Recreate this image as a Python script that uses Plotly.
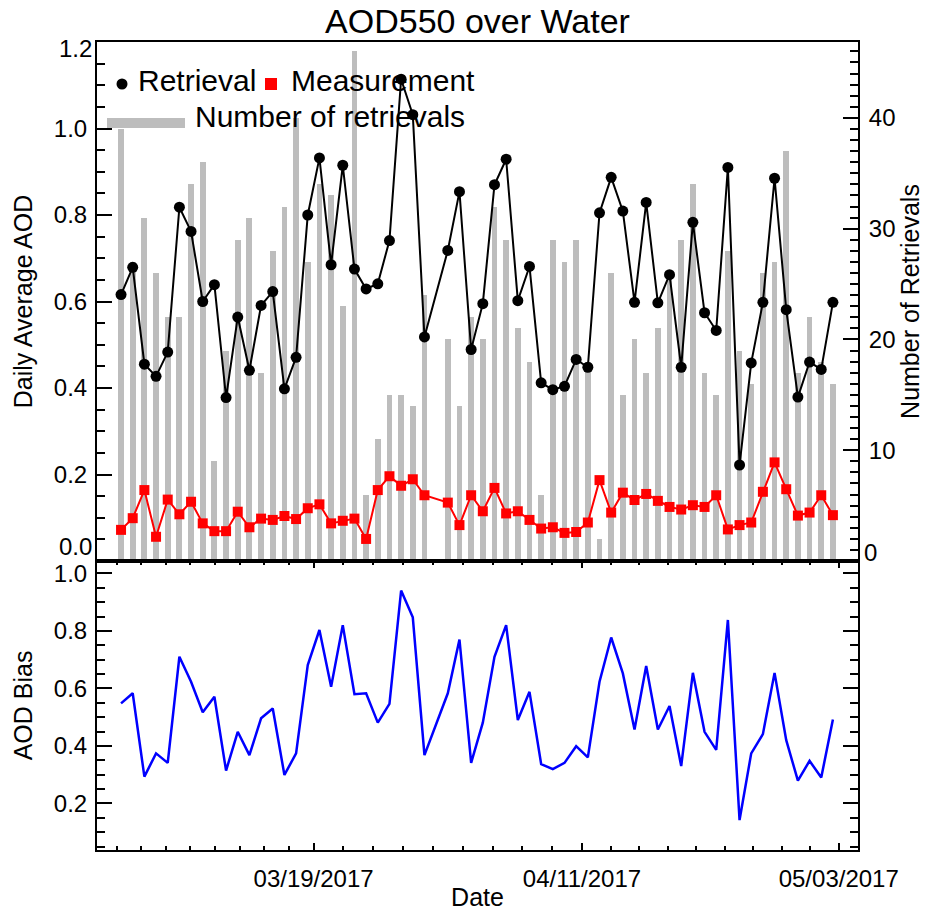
import pandas as pd
import plotly.graph_objects as go

# Daily values (2017-03-29 has no data)
dates = [
    "2017-03-02", "2017-03-03", "2017-03-04", "2017-03-05", "2017-03-06", "2017-03-07",
    "2017-03-08", "2017-03-09", "2017-03-10", "2017-03-11", "2017-03-12", "2017-03-13",
    "2017-03-14", "2017-03-15", "2017-03-16", "2017-03-17", "2017-03-18", "2017-03-19",
    "2017-03-20", "2017-03-21", "2017-03-22", "2017-03-23", "2017-03-24", "2017-03-25",
    "2017-03-26", "2017-03-27", "2017-03-28", "2017-03-30", "2017-03-31", "2017-04-01",
    "2017-04-02", "2017-04-03", "2017-04-04", "2017-04-05", "2017-04-06", "2017-04-07",
    "2017-04-08", "2017-04-09", "2017-04-10", "2017-04-11", "2017-04-12", "2017-04-13",
    "2017-04-14", "2017-04-15", "2017-04-16", "2017-04-17", "2017-04-18", "2017-04-19",
    "2017-04-20", "2017-04-21", "2017-04-22", "2017-04-23", "2017-04-24", "2017-04-25",
    "2017-04-26", "2017-04-27", "2017-04-28", "2017-04-29", "2017-04-30", "2017-05-01",
    "2017-05-02",
]

retrieval = [
    0.616, 0.679, 0.455, 0.427, 0.483, 0.818, 0.762, 0.600, 0.639, 0.378,
    0.564, 0.441, 0.591, 0.623, 0.398, 0.471, 0.800, 0.932, 0.685, 0.915,
    0.675, 0.629, 0.641, 0.741, 1.114, 1.032, 0.518, 0.718, 0.854, 0.489,
    0.595, 0.870, 0.929, 0.602, 0.681, 0.412, 0.396, 0.404, 0.466, 0.448,
    0.805, 0.887, 0.809, 0.598, 0.829, 0.597, 0.662, 0.448, 0.783, 0.574,
    0.533, 0.910, 0.222, 0.458, 0.598, 0.885, 0.581, 0.379, 0.460, 0.443,
    0.598,
]

measurement = [
    0.072, 0.099, 0.164, 0.056, 0.142, 0.108, 0.137, 0.087, 0.069, 0.069,
    0.114, 0.078, 0.098, 0.095, 0.104, 0.097, 0.122, 0.131, 0.087, 0.093,
    0.098, 0.051, 0.164, 0.196, 0.174, 0.189, 0.152, 0.135, 0.083, 0.152,
    0.115, 0.169, 0.110, 0.115, 0.095, 0.075, 0.078, 0.065, 0.067, 0.089,
    0.187, 0.112, 0.158, 0.141, 0.155, 0.139, 0.125, 0.119, 0.129, 0.125,
    0.152, 0.073, 0.083, 0.089, 0.160, 0.228, 0.166, 0.105, 0.112, 0.152,
    0.106,
]

n_retrievals = [
    39, 27, 31, 26, 22, 22, 34, 36, 9, 19,
    29, 31, 17, 28, 32, 40, 27, 34, 33, 23,
    46, 6, 11, 15, 15, 14, 24, 20, 14, 22,
    20, 32, 29, 21, 18, 6, 29, 27, 29, 18,
    2, 26, 15, 20, 17, 21, 26, 29, 34, 17,
    15, 28, 19, 16, 26, 27, 37, 17, 22, 18,
    16,
]

bias = [
    0.548, 0.583, 0.293, 0.374, 0.341, 0.710, 0.623, 0.517, 0.571, 0.314,
    0.449, 0.368, 0.496, 0.530, 0.299, 0.374, 0.681, 0.803, 0.606, 0.820,
    0.580, 0.583, 0.481, 0.546, 0.940, 0.847, 0.368, 0.583, 0.770, 0.341,
    0.481, 0.710, 0.820, 0.490, 0.588, 0.337, 0.319, 0.341, 0.399, 0.360,
    0.623, 0.777, 0.652, 0.457, 0.678, 0.457, 0.539, 0.330, 0.654, 0.449,
    0.386, 0.838, 0.142, 0.374, 0.441, 0.654, 0.420, 0.279, 0.348, 0.290,
    0.492,
]

date_ticks = ["2017-02-28", "2017-03-19", "2017-04-11", "2017-05-03"]
date_labels = ["02/28/2017", "03/19/2017", "04/11/2017", "05/03/2017"]

FONT = "Liberation Sans, Arial, Helvetica, sans-serif"
W, H = 926, 911
ML, MR, MT, MB = 97, 68, 42, 61
PW, PH = W - ML - MR, H - MT - MB
SPLIT = 289 / PH  # height share of the bias panel

# observations are stamped at midday
t = pd.to_datetime(dates) + pd.Timedelta(hours=12)
day = pd.Timedelta(days=1)
x_range = [str(t[0] - 2.06 * day), str(t[-1] + 2.15 * day)]

# minor ticks: 9 equal steps between labelled dates
majors = pd.to_datetime(date_ticks)
minor_ticks = []
for a, b in zip(majors[:-1], majors[1:]):
    for k in range(1, 9):
        minor_ticks.append(str(a + (b - a) * k / 9))

fig = go.Figure()

fig.add_trace(go.Bar(
    x=t, y=n_retrievals, width=0.5 * 86400000,
    marker=dict(color="#bdbdbd", line=dict(width=0)),
    xaxis="x", yaxis="y", name="Number of retrievals",
))
fig.add_trace(go.Scatter(
    x=t, y=retrieval, mode="lines+markers",
    line=dict(color="black", width=2),
    marker=dict(symbol="circle", size=11, color="black"),
    xaxis="x", yaxis="y2", name="Retrieval",
))
fig.add_trace(go.Scatter(
    x=t, y=measurement, mode="lines+markers",
    line=dict(color="#ff0000", width=2),
    marker=dict(symbol="square", size=10, color="#ff0000"),
    xaxis="x", yaxis="y2", name="Measurement",
))
fig.add_trace(go.Scatter(
    x=t, y=bias, mode="lines",
    line=dict(color="#0000ff", width=2.5),
    xaxis="x2", yaxis="y3", name="AOD Bias",
))

tick_font = dict(family=FONT, size=24, color="black")
title_font = dict(family=FONT, size=25, color="black")
axis_line = dict(showline=True, linecolor="black", linewidth=2,
                 showgrid=False, zeroline=False, automargin=False)

fig.update_layout(
    width=W, height=H,
    margin=dict(l=ML, r=MR, t=MT, b=MB, pad=0, autoexpand=False),
    paper_bgcolor="white", plot_bgcolor="white",
    showlegend=False, bargap=0,
    font=dict(family=FONT, color="black"),
    title=dict(text="AOD550 over Water", x=0.5, xref="paper",
               y=1 - 21 / H, yref="container", yanchor="middle",
               font=dict(family=FONT, size=34, color="black")),
    xaxis=dict(domain=[0, 1], anchor="y", type="date", range=x_range,
               showticklabels=False, ticks="", mirror=True, **axis_line),
    yaxis=dict(domain=[SPLIT, 1], anchor="x", side="right", range=[0, 46.85],
               tickmode="array", tickvals=[10, 20, 30, 40], ticktext=["10", "20", "30", "40"],
               ticks="inside", ticklen=15, tickwidth=2, tickcolor="black",
               minor=dict(tickmode="linear", tick0=0, dtick=1, ticks="inside",
                          ticklen=8, tickwidth=1.5, tickcolor="black"),
               tickfont=tick_font, ticklabelstandoff=4,
               title=dict(text="Number of Retrievals", font=title_font, standoff=6),
               **axis_line),
    yaxis2=dict(overlaying="y", anchor="x", side="left", range=[0, 1.2],
                tickmode="array", tickvals=[0.2, 0.4, 0.6, 0.8, 1.0],
                ticktext=["0.2", "0.4", "0.6", "0.8", "1.0"],
                ticks="inside", ticklen=15, tickwidth=2, tickcolor="black",
                minor=dict(tickmode="linear", tick0=0, dtick=0.05, ticks="inside",
                           ticklen=8, tickwidth=1.5, tickcolor="black"),
                tickfont=tick_font, ticklabelstandoff=3,
                title=dict(text="Daily Average AOD", font=title_font, standoff=14),
                **axis_line),
    xaxis2=dict(domain=[0, 1], anchor="y3", type="date", range=x_range,
                tickmode="array", tickvals=date_ticks, ticktext=date_labels,
                ticks="inside", ticklen=7, tickwidth=2, tickcolor="black",
                mirror="allticks",
                minor=dict(tickmode="array", tickvals=minor_ticks, ticks="inside",
                           ticklen=4, tickwidth=1.5, tickcolor="black"),
                tickfont=tick_font, ticklabelstandoff=6,
                title=dict(text="Date", font=title_font, standoff=6),
                **axis_line),
    yaxis3=dict(domain=[0, SPLIT], anchor="x2", range=[0.038, 1.043],
                tickmode="array", tickvals=[0.2, 0.4, 0.6, 0.8, 1.0],
                ticktext=["0.2", "0.4", "0.6", "0.8", "1.0"],
                ticks="inside", ticklen=15, tickwidth=2, tickcolor="black",
                mirror="allticks",
                minor=dict(tickmode="linear", tick0=0, dtick=0.05, ticks="inside",
                           ticklen=8, tickwidth=1.5, tickcolor="black"),
                tickfont=tick_font, ticklabelstandoff=3,
                title=dict(text="AOD Bias", font=title_font, standoff=14),
                **axis_line),
)


def px(x):
    return (x - ML) / PW


def py(y):
    return (H - MB - y) / PH


# end-of-axis labels, nudged inward so they clear the panel joint
fig.add_annotation(text="0.0", xref="paper", x=0, xanchor="right", xshift=-3,
                   yref="y2", y=0, yanchor="middle", yshift=15,
                   showarrow=False, font=tick_font)
fig.add_annotation(text="1.2", xref="paper", x=0, xanchor="right", xshift=-3,
                   yref="y2", y=1.2, yanchor="middle", yshift=-6,
                   showarrow=False, font=tick_font)
fig.add_annotation(text="0", xref="paper", x=1, xanchor="left", xshift=4,
                   yref="y", y=0, yanchor="middle", yshift=9,
                   showarrow=False, font=tick_font)

# legend block
legend_font = dict(family=FONT, size=30, color="black")
fig.add_shape(type="circle", xref="paper", yref="paper",
              x0=px(116.5), x1=px(127.5), y0=py(89.5), y1=py(78.5),
              fillcolor="black", line=dict(width=0))
fig.add_annotation(text="Retrieval", xref="paper", yref="paper",
                   x=px(136), y=py(80), xanchor="left", yanchor="middle",
                   showarrow=False, font=legend_font)
fig.add_shape(type="rect", xref="paper", yref="paper",
              x0=px(265), x1=px(277), y0=py(90), y1=py(78),
              fillcolor="#ff0000", line=dict(width=0))
fig.add_annotation(text="Measurement", xref="paper", yref="paper",
                   x=px(289), y=py(80), xanchor="left", yanchor="middle",
                   showarrow=False, font=legend_font)
fig.add_shape(type="rect", xref="paper", yref="paper",
              x0=px(107), x1=px(185), y0=py(128), y1=py(118),
              fillcolor="#bdbdbd", line=dict(width=0))
fig.add_annotation(text="Number of retrievals", xref="paper", yref="paper",
                   x=px(193), y=py(117), xanchor="left", yanchor="middle",
                   showarrow=False, font=legend_font)

fig.write_html("out.html")
